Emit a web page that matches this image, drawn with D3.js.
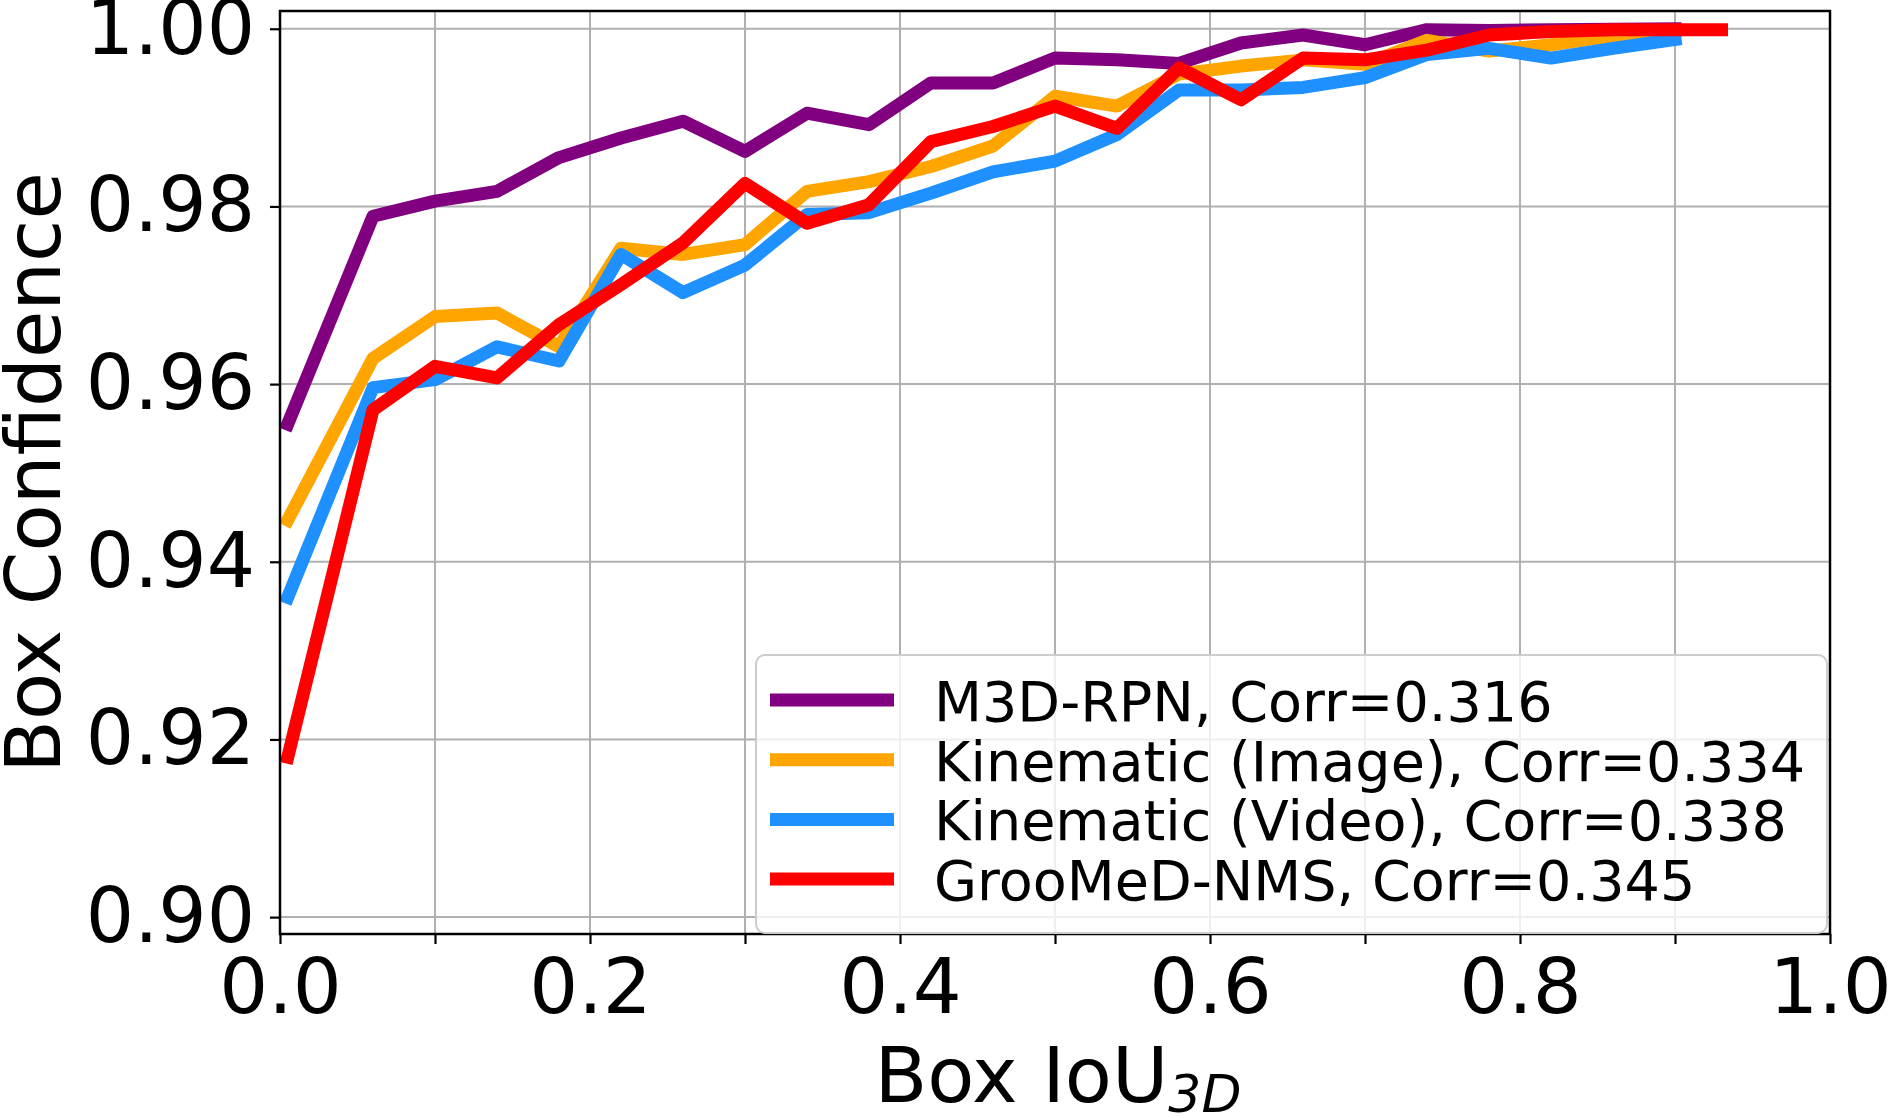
<!DOCTYPE html>
<html>
<head>
<meta charset="utf-8">
<script src="https://cdn.jsdelivr.net/npm/d3@7"></script>
<style>
  body { margin: 0; background: #fff; }
  text { font-family: "DejaVu Sans", sans-serif; fill: #000; }
</style>
</head>
<body>
<div id="chart"></div>
<script>
// IoU bin positions (x)
const iouBins = [0.005, 0.06, 0.10, 0.14, 0.18, 0.22, 0.26, 0.30, 0.34, 0.38, 0.42, 0.46,
                 0.50, 0.54, 0.58, 0.62, 0.66, 0.70, 0.74, 0.78, 0.82, 0.86, 0.90]
const grooBins = iouBins.concat([0.93])

// mean box confidence per bin
const m3dRpn = [0.9555, 0.9789, 0.9806, 0.9817, 0.9855, 0.9877, 0.9896, 0.9862, 0.9905, 0.9892, 0.9939, 0.9939,
                0.9967, 0.9965, 0.9961, 0.9984, 0.9993, 0.9982, 0.9999, 0.9998, 0.9999, 0.99995, 1.0000]
const kinImage = [0.9447, 0.9629, 0.9676, 0.9680, 0.9642, 0.9753, 0.9746, 0.9757, 0.9817, 0.9828, 0.9845, 0.9868,
                  0.9924, 0.9913, 0.9949, 0.9958, 0.9965, 0.9960, 0.9987, 0.9975, 0.9982, 0.9992, 0.9997]
const kinVideo = [0.9360, 0.9596, 0.9605, 0.9642, 0.9626, 0.9746, 0.9703, 0.9734, 0.9791, 0.9793, 0.9815, 0.9839,
                  0.9851, 0.9881, 0.9931, 0.9931, 0.9934, 0.9945, 0.9971, 0.9978, 0.9967, 0.9978, 0.9988]
const grooMed = [0.9180, 0.9571, 0.9620, 0.9607, 0.9667, 0.9712, 0.9759, 0.9826, 0.9781, 0.9802, 0.9873, 0.9890,
                 0.9913, 0.9888, 0.9956, 0.9920, 0.9967, 0.9965, 0.9976, 0.9993, 0.9997, 0.9999, 0.9999, 0.9999]

const seriesNames = ["M3D-RPN, Corr=0.316", "Kinematic (Image), Corr=0.334",
                     "Kinematic (Video), Corr=0.338", "GrooMeD-NMS, Corr=0.345"]
const seriesColors = ["#800080", "#FFA500", "#1E90FF", "#FF0000"]

const xTicks = [0, 0.1, 0.2, 0.3, 0.4, 0.5, 0.6, 0.7, 0.8, 0.9, 1.0]
const xTickLabels = [0, 0.2, 0.4, 0.6, 0.8, 1.0]
const yTicks = [0.90, 0.92, 0.94, 0.96, 0.98, 1.00]

const W = 1891, H = 1118
const plotL = 280, plotR = 1830, plotT = 11, plotB = 934

const svg = d3.select("#chart").append("svg")
  .attr("width", W).attr("height", H)

const x = d3.scaleLinear().domain([0, 1]).range([plotL, plotR])
const y = d3.scaleLinear().domain([0.8981, 1.0020]).range([plotB, plotT])

// grid
svg.append("g").selectAll("line").data(xTicks).enter().append("line")
  .attr("x1", d => x(d)).attr("x2", d => x(d))
  .attr("y1", plotT).attr("y2", plotB)
  .attr("stroke", "#b0b0b0").attr("stroke-width", 2)
svg.append("g").selectAll("line").data(yTicks).enter().append("line")
  .attr("x1", plotL).attr("x2", plotR)
  .attr("y1", d => y(d)).attr("y2", d => y(d))
  .attr("stroke", "#b0b0b0").attr("stroke-width", 2)

// axes
const xAxis = d3.axisBottom(x).tickValues(xTicks).tickSize(10).tickPadding(14)
  .tickFormat(d => xTickLabels.some(v => Math.abs(v - d) < 1e-9) ? d3.format(".1f")(d) : "")
const yAxis = d3.axisLeft(y).tickValues(yTicks).tickSize(10).tickPadding(15)
  .tickFormat(d3.format(".2f"))

const gx = svg.append("g").attr("transform", `translate(0,${plotB})`).call(xAxis)
gx.select(".domain").remove()
gx.selectAll("line").attr("stroke", "#000").attr("stroke-width", 2.2)
gx.selectAll("text").attr("font-size", "77px").attr("font-family", "DejaVu Sans")

const gy = svg.append("g").attr("transform", `translate(${plotL},0)`).call(yAxis)
gy.select(".domain").remove()
gy.selectAll("line").attr("stroke", "#000").attr("stroke-width", 2.2)
gy.selectAll("text").attr("font-size", "76px").attr("font-family", "DejaVu Sans")

// lines
const allSeries = [
  {xs: iouBins, ys: m3dRpn},
  {xs: iouBins, ys: kinImage},
  {xs: iouBins, ys: kinVideo},
  {xs: grooBins, ys: grooMed}
]
const line = d3.line().x(d => x(d[0])).y(d => y(d[1]))
allSeries.forEach((s, i) => {
  svg.append("path")
    .datum(s.xs.map((v, k) => [v, s.ys[k]]))
    .attr("fill", "none")
    .attr("stroke", seriesColors[i])
    .attr("stroke-width", 13)
    .attr("stroke-linecap", "square")
    .attr("stroke-linejoin", "round")
    .attr("d", line)
})

// frame
svg.append("rect")
  .attr("x", plotL).attr("y", plotT)
  .attr("width", plotR - plotL).attr("height", plotB - plotT)
  .attr("fill", "none").attr("stroke", "#000").attr("stroke-width", 2.5)

// legend
const lg = svg.append("g")
lg.append("rect")
  .attr("x", 756).attr("y", 655).attr("width", 1071).attr("height", 278)
  .attr("rx", 9).attr("ry", 9)
  .attr("fill", "#fff").attr("fill-opacity", 0.8)
  .attr("stroke", "#cccccc").attr("stroke-width", 2)
seriesNames.forEach((name, i) => {
  const cy = 700 + i * 59.7
  lg.append("line")
    .attr("x1", 770).attr("x2", 894).attr("y1", cy).attr("y2", cy)
    .attr("stroke", seriesColors[i]).attr("stroke-width", 13)
  lg.append("text")
    .attr("x", 934).attr("y", cy + 21)
    .attr("font-size", "55.6px")
    .text(name)
})

// axis titles
svg.append("text")
  .attr("transform", `translate(60,${(plotT + plotB) / 2}) rotate(-90)`)
  .attr("text-anchor", "middle")
  .attr("font-size", "77px")
  .text("Box Confidence")

const xl = svg.append("text")
  .attr("x", (plotL + plotR) / 2 + 3).attr("y", 1102)
  .attr("text-anchor", "middle")
  .attr("font-size", "77px")
xl.append("tspan").text("Box IoU")
xl.append("tspan").attr("font-size", "52px").attr("font-style", "italic").attr("dy", 10).text("3D")
</script>
</body>
</html>
